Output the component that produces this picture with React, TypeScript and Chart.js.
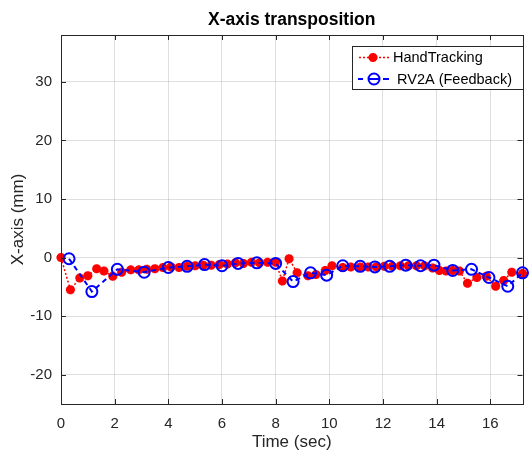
import React, { useEffect, useRef } from "react";
import { Chart, registerables } from "chart.js";

Chart.register(...registerables);

const handTime = [0, 0.35, 0.7, 1.0, 1.33, 1.6, 1.93, 2.26, 2.6, 2.9, 3.2, 3.5, 3.8, 4.1, 4.4, 4.7, 5.0, 5.3, 5.6, 5.9, 6.2, 6.5, 6.8, 7.1, 7.4, 7.7, 8.0, 8.25, 8.5, 8.8, 9.2, 9.5, 9.85, 10.1, 10.5, 10.8, 11.15, 11.45, 11.75, 12.05, 12.35, 12.65, 12.95, 13.25, 13.55, 13.85, 14.1, 14.35, 14.6, 14.85, 15.15, 15.5, 15.85, 16.2, 16.5, 16.8, 17.2];
const handX = [0, -5.5, -3.5, -3.1, -1.9, -2.3, -3.2, -2.5, -2.1, -2.1, -2.0, -1.9, -1.7, -1.6, -1.7, -1.5, -1.4, -1.3, -1.3, -1.2, -1.1, -0.9, -1.0, -0.8, -0.9, -0.8, -0.8, -4.0, -0.2, -2.6, -3.1, -2.9, -2.2, -1.4, -1.7, -1.6, -1.6, -1.6, -1.6, -1.5, -1.5, -1.4, -1.4, -1.4, -1.4, -1.8, -2.2, -2.3, -2.2, -2.3, -4.4, -3.4, -3.2, -4.9, -3.9, -2.5, -2.7];

const rvTime = [0.3, 1.15, 2.1, 3.1, 4.0, 4.7, 5.35, 6.0, 6.6, 7.3, 8.0, 8.65, 9.3, 9.9, 10.5, 11.15, 11.7, 12.25, 12.85, 13.4, 13.9, 14.6, 15.3, 15.95, 16.65, 17.2];
const rvX = [-0.2, -5.8, -2.0, -2.5, -1.7, -1.5, -1.2, -1.4, -1.0, -0.9, -1.0, -4.1, -2.6, -3.0, -1.4, -1.5, -1.6, -1.5, -1.3, -1.4, -1.3, -2.2, -2.0, -3.4, -4.9, -2.6];

const xTicks = [0, 2, 4, 6, 8, 10, 12, 14, 16];
const yTicks = [-20, -10, 0, 10, 20, 30];
const seriesNames = ["HandTracking", "RV2A (Feedback)"];
const chartTitle = "X-axis transposition";

const FONT = "'Liberation Sans', Arial, Helvetica, sans-serif";
const AX = "#262626";

const framePlugin = {
  id: "frame",
  afterDraw(chart: any) {
    const { ctx, chartArea: a, scales } = chart;
    ctx.save();
    // title
    ctx.fillStyle = "#000000";
    ctx.font = `bold 17.5px ${FONT}`;
    ctx.textAlign = "center";
    ctx.textBaseline = "middle";
    ctx.fillText(chartTitle, (a.left + a.right) / 2, 20);
    // inner ticks
    ctx.strokeStyle = AX;
    ctx.lineWidth = 1;
    ctx.beginPath();
    const tl = 5;
    for (const v of xTicks) {
      const px = Math.round(scales.x.getPixelForValue(v)) + 0.5;
      ctx.moveTo(px, a.bottom);
      ctx.lineTo(px, a.bottom - tl);
      ctx.moveTo(px, a.top);
      ctx.lineTo(px, a.top + tl);
    }
    for (const v of yTicks) {
      const py = Math.round(scales.y.getPixelForValue(v)) + 0.5;
      ctx.moveTo(a.left, py);
      ctx.lineTo(a.left + tl, py);
      ctx.moveTo(a.right, py);
      ctx.lineTo(a.right - tl, py);
    }
    ctx.stroke();
    // box
    ctx.strokeRect(Math.round(a.left) + 0.5, Math.round(a.top) + 0.5, Math.round(a.right - a.left), Math.round(a.bottom - a.top));

    // legend
    const lx = 352.5, ly = 46.5, lw = 171, lh = 43;
    ctx.fillStyle = "#ffffff";
    ctx.fillRect(lx, ly, lw, lh);
    ctx.strokeStyle = AX;
    ctx.lineWidth = 1;
    ctx.strokeRect(lx, ly, lw, lh);

    const r1 = 57.5, r2 = 79;
    ctx.strokeStyle = "#ff0000";
    ctx.lineWidth = 1.5;
    ctx.setLineDash([2, 2]);
    ctx.beginPath();
    ctx.moveTo(359, r1);
    ctx.lineTo(389, r1);
    ctx.stroke();
    ctx.setLineDash([]);
    ctx.lineWidth = 3;
    ctx.beginPath();
    const mx = 373, rr = 4.5;
    ctx.moveTo(mx - rr, r1); ctx.lineTo(mx + rr, r1);
    ctx.moveTo(mx, r1 - rr); ctx.lineTo(mx, r1 + rr);
    const d = rr * 0.707;
    ctx.moveTo(mx - d, r1 - d); ctx.lineTo(mx + d, r1 + d);
    ctx.moveTo(mx - d, r1 + d); ctx.lineTo(mx + d, r1 - d);
    ctx.stroke();
    ctx.strokeStyle = "#0000ff";
    ctx.lineWidth = 2;
    ctx.beginPath();
    ctx.moveTo(358, r2); ctx.lineTo(363, r2);
    ctx.moveTo(383, r2); ctx.lineTo(389, r2);
    ctx.stroke();
    ctx.beginPath();
    ctx.arc(374, r2, 5.5, 0, Math.PI * 2);
    ctx.stroke();
    ctx.beginPath();
    ctx.moveTo(369, r2); ctx.lineTo(379, r2);
    ctx.stroke();

    ctx.fillStyle = "#000000";
    ctx.font = `14.5px ${FONT}`;
    ctx.textBaseline = "middle";
    ctx.textAlign = "left";
    ctx.fillText(seriesNames[0], 393, r1 + 0.5);
    ctx.fillText(seriesNames[1], 397, r2 + 0.5);
    ctx.restore();
  },
};

export default function App() {
  const ref = useRef<HTMLCanvasElement | null>(null);
  useEffect(() => {
    if (!ref.current) return;
    const chart = new Chart(ref.current, {
      type: "line",
      data: {
        datasets: [
          {
            label: seriesNames[1],
            data: rvTime.map((t, i) => ({ x: t, y: rvX[i] })),
            borderColor: "#0000ff",
            backgroundColor: "rgba(0,0,0,0)",
            borderWidth: 2,
            borderDash: [5, 4],
            pointStyle: "circle",
            pointRadius: 5.5,
            pointBorderWidth: 2,
            pointBorderColor: "#0000ff",
            pointBackgroundColor: "rgba(0,0,0,0)",
            tension: 0,
            clip: false as any,
            order: 0,
          },
          {
            label: seriesNames[0],
            data: handTime.map((t, i) => ({ x: t, y: handX[i] })),
            borderColor: "#ff0000",
            backgroundColor: "#ff0000",
            borderWidth: 1.5,
            borderDash: [2, 2],
            pointStyle: "star",
            pointRadius: 4.5,
            pointBorderWidth: 3,
            pointBorderColor: "#ff0000",
            pointBackgroundColor: "#ff0000",
            tension: 0,
            clip: false as any,
            order: 1,
          },
        ],
      },
      options: {
        animation: false,
        responsive: false,
        layout: { padding: { left: 0, right: 5, top: 35, bottom: 0 } },
        plugins: {
          legend: { display: false },
          tooltip: { enabled: false },
          title: { display: false },
        },
        scales: {
          x: {
            type: "linear",
            min: 0,
            max: 17.2,
            afterFit: (s: any) => { s.height = 48; },
            afterBuildTicks: (s: any) => { s.ticks = xTicks.map((v) => ({ value: v })); },
            ticks: { color: AX, font: { family: FONT, size: 15 }, padding: 11, maxRotation: 0, autoSkip: false },
            grid: { color: "rgba(38,38,38,0.15)", drawTicks: false },
            border: { color: AX, width: 1 },
            title: { display: true, text: "Time (sec)", color: AX, font: { family: FONT, size: 17, lineHeight: 1 }, padding: { top: 0, bottom: 1 } },
          },
          y: {
            type: "linear",
            min: -25,
            max: 38,
            afterFit: (s: any) => { s.width = 61; },
            afterBuildTicks: (s: any) => { s.ticks = yTicks.map((v) => ({ value: v })); },
            ticks: { color: AX, font: { family: FONT, size: 15 }, padding: 9, autoSkip: false },
            grid: { color: "rgba(38,38,38,0.15)", drawTicks: false },
            border: { color: AX, width: 1 },
            title: { display: true, text: "X-axis (mm)", color: AX, font: { family: FONT, size: 17, lineHeight: 1 }, padding: { top: 10, bottom: 0 } },
          },
        },
      },
      plugins: [framePlugin],
    });
    return () => chart.destroy();
  }, []);
  return (
    <div style={{ position: "absolute", left: 0, top: 0, width: 530, height: 452, background: "#ffffff" }}>
      <canvas ref={ref} width={530} height={452} style={{ display: "block" }} />
    </div>
  );
}
